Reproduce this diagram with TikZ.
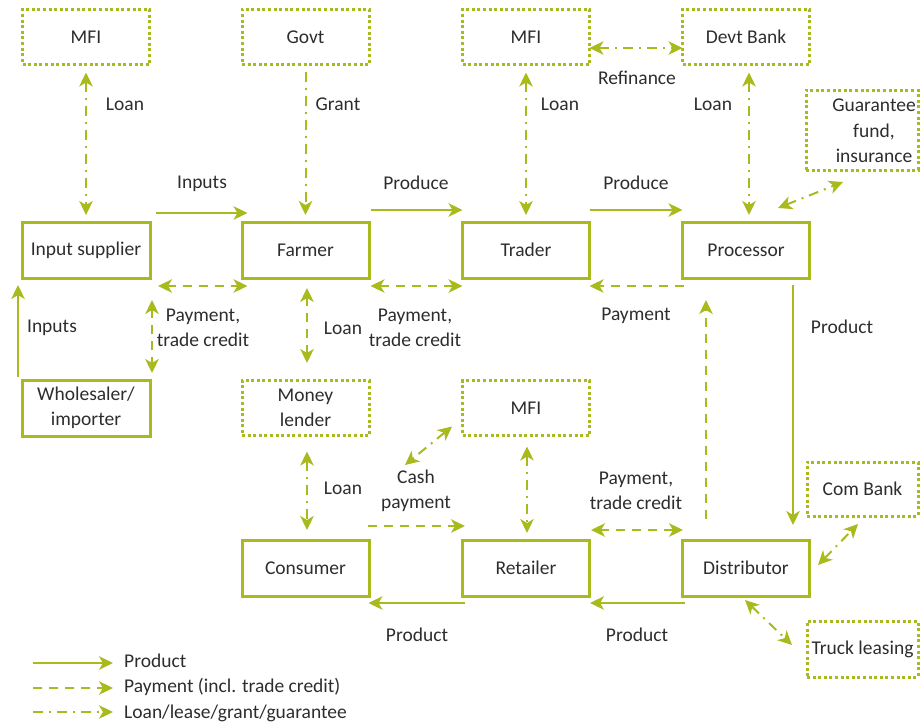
\documentclass[tikz,border=0pt]{standalone}
\usepackage{fontspec}
\setmainfont{Carlito}
\usetikzlibrary{arrows.meta,calc}
\definecolor{grn}{RGB}{168,186,28}
\definecolor{txtc}{RGB}{45,45,45}
\begin{document}
\begin{tikzpicture}[x=1pt,y=-1pt,
  font=\fontsize{19.5}{25.5}\selectfont, text=txtc,
  >={Stealth[length=14pt,width=13.5pt,inset=4pt]},
  sbox/.style={draw=grn, line width=3pt, minimum width=127pt, minimum height=56pt, inner sep=0pt, outer sep=0pt, align=center},
  dbox/.style={draw=grn, line width=3pt, dash pattern=on 3pt off 2.6pt, minimum width=127pt, minimum height=55pt, inner sep=0pt, outer sep=0pt, align=center},
  lbl/.style={align=center, inner sep=0pt},
  prodarr/.style={draw=grn, line width=2pt, ->},
  payarr/.style={draw=grn, line width=2pt, dash pattern=on 9pt off 7pt, ->},
  paydbl/.style={payarr, <->},
  loanarr/.style={draw=grn, line width=2pt, dash pattern=on 10pt off 6pt on 2pt off 6pt, ->},
  loandbl/.style={loanarr, <->}
]
\useasboundingbox (0,0) rectangle (920,725);

% dotted boxes
\node[dbox] (mfia) at (86,37) {MFI};
\node[dbox] (govt) at (305.5,37) {Govt};
\node[dbox] (mfib) at (526,37) {MFI};
\node[dbox] (devt) at (746,37) {Devt Bank};
\node[dbox, minimum width=112pt, minimum height=80pt] (guar) at (862,130) {};
\node[lbl] (guart) at (874,131) {Guarantee\\fund,\\insurance};
\node[dbox] (mlen) at (305.5,408) {Money\\lender};
\node[dbox] (mfic) at (526,408) {MFI};
\node[dbox, minimum width=111pt, minimum height=54pt] (comb) at (862.5,489) {Com Bank};
\node[dbox, minimum width=111pt, minimum height=56pt] (truck) at (862.5,649) {Truck leasing};

% solid boxes
\node[sbox, minimum width=128pt] (insup) at (86,250) {Input supplier};
\node[sbox] (farm) at (305.5,250) {Farmer};
\node[sbox] (trad) at (526,250) {Trader};
\node[sbox] (proc) at (746,250) {Processor};
\node[sbox, minimum width=128pt] (whol) at (86,408) {Wholesaler/\\importer};
\node[sbox] (cons) at (305.5,568) {Consumer};
\node[sbox] (reta) at (526,568) {Retailer};
\node[sbox] (dist) at (746,568) {Distributor};

% top row loans
\draw[loandbl] ($(mfia.south)+(0,8)$) -- ($(insup.north)+(0,-7)$);
\draw[loanarr] ($(govt.south)+(0,7)$) -- ($(farm.north)+(0,-7)$);
\draw[loandbl] ($(mfib.south)+(0,8)$) -- ($(trad.north)+(0,-7)$);
\draw[loandbl] ($(mfib.east)+(0,11)$) -- ($(devt.west)+(0,11)$);
\draw[loandbl] ($(devt.south)+(3,8)$) -- ($(proc.north)+(3,-7)$);
\draw[loandbl] ($(proc.north)+(32,-14)$) -- ($(guar.south west)+(37,12)$);

% product flows top
\draw[prodarr] ($(insup.east)+(6,-37)$) -- ($(farm.west)+(5.5,-37)$);
\draw[prodarr] ($(farm.east)+(1.5,-40)$) -- ($(trad.west)+(0,-40)$);
\draw[prodarr] ($(trad.east)+(0,-40)$) -- ($(proc.west)+(0,-40)$);

% payments top
\draw[paydbl] ($(insup.east)+(8,36)$) -- ($(farm.west)+(5.5,36)$);
\draw[paydbl] ($(farm.east)+(1.5,36)$) -- ($(trad.west)+(0,36)$);
\draw[payarr] ($(proc.west)+(1,36)$) -- ($(trad.east)+(0,36)$);

% left column
\draw[prodarr] ($(whol.north west)+(-4,-3)$) -- ($(insup.south west)+(-4,7)$);
\draw[paydbl] ($(insup.south east)+(2,22)$) -- ($(whol.north east)+(2,-7)$);

% middle
\draw[paydbl] ($(farm.south)+(1.5,10)$) -- ($(mlen.north)+(1.5,-17.5)$);
\draw[loandbl] ($(mlen.south)+(1.5,16)$) -- ($(cons.north)+(1.5,-10)$);
\coordinate (cashp) at (405,465);
\draw[loandbl] ($(mfic.south west)+(-10.5,-9)$) -- (cashp);
\draw[payarr] ($(cons.east)+(-1.5,-42)$) -- ($(reta.west)+(2.5,-42)$);
\draw[loandbl] ($(mfic.south)+(1,11)$) -- ($(reta.north)+(1,-7)$);
\draw[paydbl] ($(reta.east)+(1.5,-38)$) -- ($(dist.west)+(0.5,-38)$);

% right column
\draw[payarr] ($(dist.north west)+(23.5,-21)$) -- ($(proc.south west)+(23.5,22)$);
\draw[prodarr] ($(proc.south east)+(-16.5,7)$) -- ($(dist.north east)+(-16.5,-15)$);
\draw[loandbl] ($(dist.east)+(8.5,-3)$) -- ($(comb.south west)+(51,8)$);
\draw[loandbl] ($(dist.south)+(-1,4)$) -- ($(truck.west)+(-15,-4)$);

% product flows bottom
\draw[prodarr] ($(dist.south west)+(2.5,7)$) -- ($(reta.south east)+(0.5,7)$);
\draw[prodarr] ($(reta.south west)+(2.5,7)$) -- ($(cons.south east)+(-0.5,7)$);

% labels
\node[lbl] (l1) at (125,104) {Loan};
\node[lbl] (l2) at (338,104) {Grant};
\node[lbl] (l3) at (560,104) {Loan};
\node[lbl] (l4) at (637,78) {Refinance};
\node[lbl] (l5) at (713,104) {Loan};
\node[lbl] (l6) at (202,184) {Inputs};
\node[lbl] (l7) at (416,183) {Produce};
\node[lbl] (l8) at (636,183) {Produce};
\node[lbl] (l9) at (52,328) {Inputs};
\node[lbl] (l10) at (203,328) {Payment,\\trade credit};
\node[lbl] (l11) at (343,328) {Loan};
\node[lbl] (l12) at (415,328) {Payment,\\trade credit};
\node[lbl] (l13) at (636,316) {Payment};
\node[lbl] (l14) at (842,327) {Product};
\node[lbl] (l15) at (343,488) {Loan};
\node[lbl] (l16) at (416,491) {Cash\\payment};
\node[lbl] (l17) at (636,491) {Payment,\\trade credit};
\node[lbl] (l18) at (417,635) {Product};
\node[lbl] (l19) at (637,635) {Product};

% legend
\coordinate (lg1a) at (33,663); \coordinate (lg1b) at (113,663);
\coordinate (lg2a) at (33,688); \coordinate (lg2b) at (113,688);
\coordinate (lg3a) at (33,712); \coordinate (lg3b) at (113,712);
\draw[prodarr] (lg1a) -- (lg1b);
\draw[payarr] (lg2a) -- (lg2b);
\draw[loanarr] (lg3a) -- (lg3b);
\node[lbl, anchor=west] (lt1) at (124,661) {Product};
\node[lbl, anchor=west] (lt2) at (124,687) {Payment (incl. trade credit)};
\node[lbl, anchor=west] (lt3) at (124,713) {Loan/lease/grant/guarantee};
\end{tikzpicture}
\end{document}
